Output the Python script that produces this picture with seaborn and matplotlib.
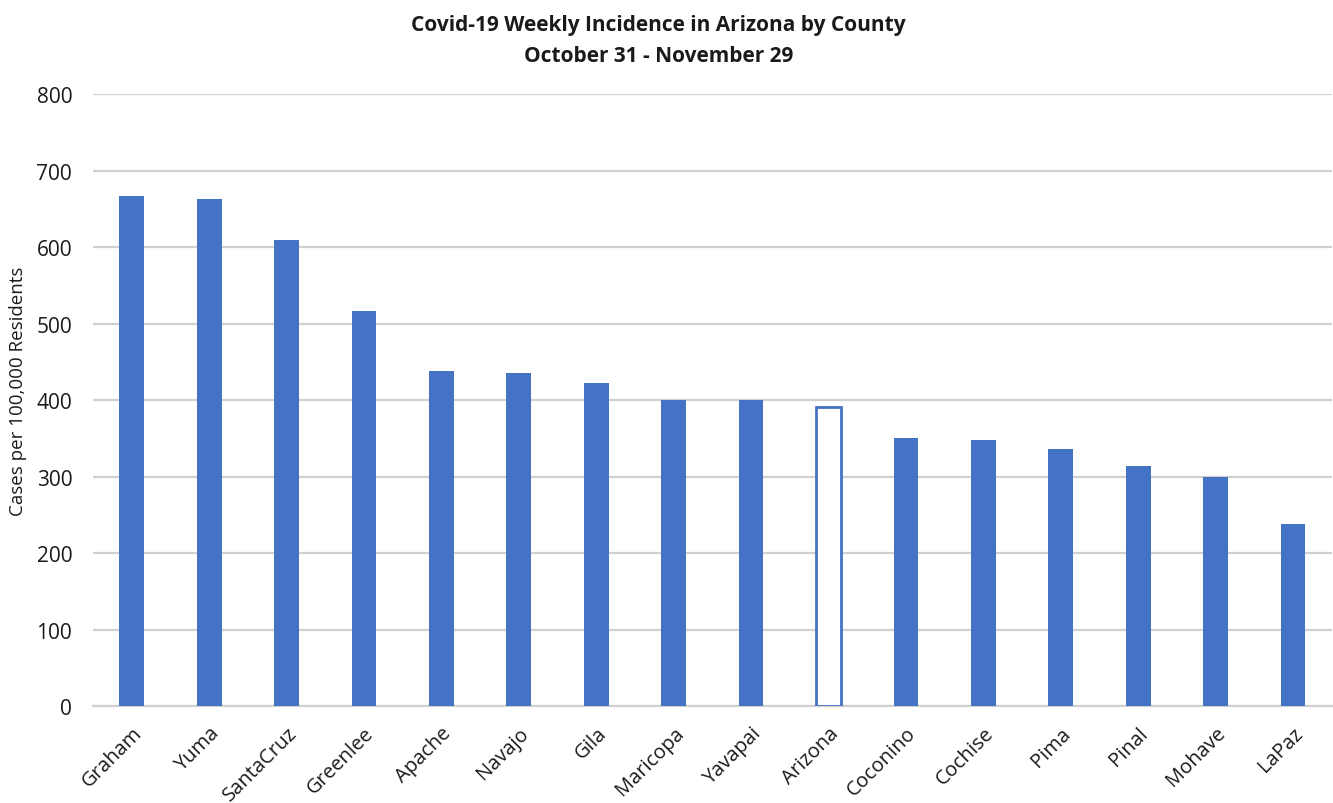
import matplotlib
matplotlib.use("Agg")
import matplotlib.pyplot as plt
import seaborn as sns
import pandas as pd

counties = ["Graham", "Yuma", "SantaCruz", "Greenlee", "Apache", "Navajo", "Gila",
            "Maricopa", "Yavapai", "Arizona", "Coconino", "Cochise", "Pima", "Pinal",
            "Mohave", "LaPaz"]
incidence = [667, 663, 609, 516, 438, 435, 422, 400, 400, 391, 350, 348, 336, 314, 299, 238]
y_ticks = [0, 100, 200, 300, 400, 500, 600, 700, 800]

title_lines = ["Covid-19 Weekly Incidence in Arizona by County", "October 31 - November 29"]
y_label = "Cases per 100,000 Residents"
state_total = "Arizona"

BLUE = "#4472C4"
GRID = "#d0d0d0"
INK = "#1a1a1a"

sns.set_theme(style="white")
plt.rcParams["font.family"] = ["Open Sans", "DejaVu Sans"]

df = pd.DataFrame({"county": counties, "incidence": incidence})

fig = plt.figure(figsize=(13.33, 8.04), dpi=100)
ax = fig.add_axes([0.0698, 0.1206, 0.9292, 0.7612])

sns.barplot(data=df, x="county", y="incidence", color=BLUE, width=0.32,
            saturation=1, ax=ax, zorder=3)

# The statewide figure is drawn as an outlined bar
for patch, name in zip(ax.patches, counties):
    if name == state_total:
        patch.set_facecolor("white")
        patch.set_edgecolor(BLUE)
        patch.set_linewidth(2)
    else:
        patch.set_edgecolor("none")

ax.set_ylim(0, 800)
ax.set_xlim(-0.5, len(counties) - 0.5)
ax.set_yticks(y_ticks)
ax.set_yticklabels([str(t) for t in y_ticks], fontsize=15, color=INK)
ax.tick_params(axis="y", length=0, pad=15)
ax.tick_params(axis="x", length=0, pad=12)
plt.setp(ax.get_xticklabels(), rotation=45, ha="right", rotation_mode="anchor",
         fontsize=14.5, color=INK)

ax.yaxis.grid(True, color=GRID, linewidth=1.6, zorder=0)
ax.set_axisbelow(True)
for side in ["left", "right", "top"]:
    ax.spines[side].set_visible(False)
ax.spines["bottom"].set_color(GRID)
ax.spines["bottom"].set_linewidth(1.6)

ax.set_xlabel("")
ax.set_ylabel(y_label, fontsize=13.5, color=INK)
ax.yaxis.set_label_coords(-0.053, 0.516)

fig.text(0.494, 0.968, title_lines[0], ha="center", va="center", fontsize=15,
         fontweight="bold", color=INK)
fig.text(0.494, 0.930, title_lines[1], ha="center", va="center", fontsize=15,
         fontweight="bold", color=INK)

fig.savefig("out.png", dpi=100, facecolor="white")
